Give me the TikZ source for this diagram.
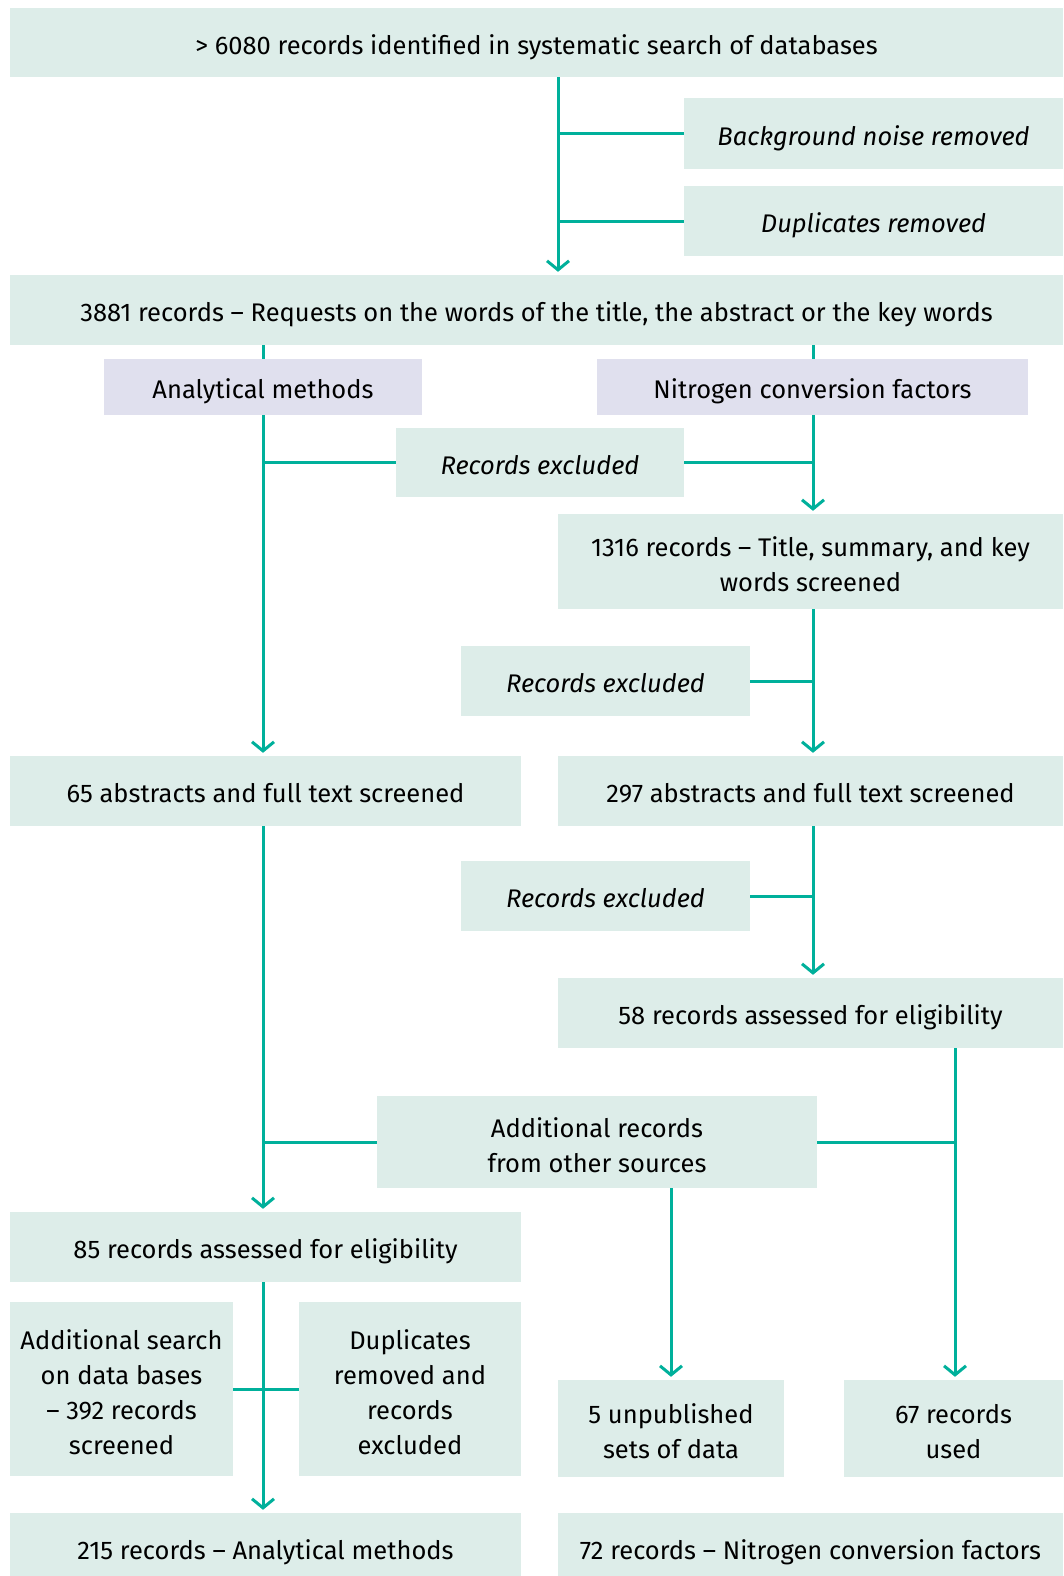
\documentclass[tikz,border=0pt]{standalone}
\usepackage{fontspec}
\setmainfont{Fira Sans}
\usetikzlibrary{arrows.meta}
\definecolor{boxc}{HTML}{DDEDE9}
\definecolor{lavc}{HTML}{E0E0EE}
\definecolor{linec}{HTML}{00B09B}
\tikzset{
  box/.style={fill=boxc, inner sep=0pt, align=center, text depth=0pt, text height=23.5pt, font=\fontsize{25.5}{35}\selectfont},
  twobox/.style={box, text height=60pt},
  fourbox/.style={box, text height=130pt},
  lav/.style={box, fill=lavc},
  ibox/.style={box, font=\fontsize{25.5}{35}\selectfont\itshape},
  ln/.style={draw=linec, line width=3pt},
  arr/.style={ln, -{Straight Barb[length=9pt,width=22pt,line width=3pt]}, shorten >=3pt},
}
\begin{document}
\begin{tikzpicture}[x=1pt,y=-1pt]
\useasboundingbox (0,0) rectangle (1063,1576);
% nodes
\node[box, minimum width=1053pt, minimum height=69pt] (top) at (536.5,42.5) {> 6080 records identified in systematic search of databases};
\node[ibox, minimum width=379pt, minimum height=70pt] (bg) at (873.5,133.5) {Background noise removed};
\node[ibox, minimum width=379pt, minimum height=70pt] (dup) at (873.5,221) {Duplicates removed};
\node[box, minimum width=1053pt, minimum height=70pt] (r3881) at (536.5,310) {3881 records – Requests on the words of the title, the abstract or the key words};
\node[lav, minimum width=317.5pt, minimum height=56pt] (am) at (263,387) {Analytical methods};
\node[lav, minimum width=431pt, minimum height=56pt] (ncf) at (812.5,387) {Nitrogen conversion factors};
\node[ibox, minimum width=288pt, minimum height=69pt] (ex1) at (540,462.5) {Records excluded};
\node[twobox, minimum width=505pt, minimum height=95pt] (r1316) at (810.5,561.5) {1316 records – Title, summary, and key\\words screened};
\node[ibox, minimum width=289pt, minimum height=70pt] (ex2) at (605.5,681) {Records excluded};
\node[box, minimum width=511pt, minimum height=70pt] (a65) at (265.5,791) {65 abstracts and full text screened};
\node[box, minimum width=505pt, minimum height=70pt] (a297) at (810.5,791) {297 abstracts and full text screened};
\node[ibox, minimum width=289pt, minimum height=70pt] (ex3) at (605.5,896) {Records excluded};
\node[box, minimum width=505pt, minimum height=70pt] (r58) at (810.5,1013) {58 records assessed for eligibility};
\node[twobox, minimum width=440pt, minimum height=92pt] (add) at (597,1142) {Additional records\\from other sources};
\node[box, minimum width=511pt, minimum height=70pt] (r85) at (265.5,1247) {85 records assessed for eligibility};
\node[fourbox, minimum width=223pt, minimum height=174pt] (srch) at (121.5,1389) {Additional search\\on data bases\\– 392 records\\screened};
\node[fourbox, minimum width=222pt, minimum height=174pt] (dupx) at (410,1389) {Duplicates\\removed and\\records\\excluded};
\node[twobox, minimum width=226pt, minimum height=97pt] (unp) at (671,1428.5) {5 unpublished\\sets of data};
\node[twobox, minimum width=219pt, minimum height=97pt] (used) at (953.5,1428.5) {67 records\\used};
\node[box, minimum width=511pt, minimum height=70pt] (r215) at (265.5,1548) {215 records – Analytical methods};
\node[box, minimum width=505pt, minimum height=70pt] (r72) at (810.5,1548) {72 records – Nitrogen conversion factors};
% connector columns
\coordinate (xA) at (558,0);
\coordinate (xL) at (263,0);
\coordinate (xR) at (813,0);
\coordinate (xU) at (955,0);
\coordinate (xP) at (671,0);
% connectors
\draw[arr] (top.south -| xA) -- (r3881.north -| xA);
\draw[ln] (bg.west) -- (bg.west -| xA);
\draw[ln] (dup.west) -- (dup.west -| xA);
\draw[ln] (r3881.south -| xL) -- (am.north -| xL);
\draw[ln] (r3881.south -| xR) -- (ncf.north -| xR);
\draw[arr] (am.south -| xL) -- (a65.north -| xL);
\draw[arr] (ncf.south -| xR) -- (r1316.north -| xR);
\draw[ln] (ex1.west) -- (ex1.west -| xL);
\draw[ln] (ex1.east) -- (ex1.east -| xR);
\draw[arr] (r1316.south -| xR) -- (a297.north -| xR);
\draw[ln] (ex2.east) -- (ex2.east -| xR);
\draw[arr] (a297.south -| xR) -- (r58.north -| xR);
\draw[ln] (ex3.east) -- (ex3.east -| xR);
\draw[arr] (a65.south -| xL) -- (r85.north -| xL);
\draw[ln] (add.west) -- (add.west -| xL);
\draw[arr] (r58.south -| xU) -- (used.north -| xU);
\draw[ln] (add.east) -- (add.east -| xU);
\draw[arr] (add.south -| xP) -- (unp.north -| xP);
\draw[arr] (r85.south -| xL) -- (r215.north -| xL);
\draw[ln] (srch.east) -- (dupx.west);
\end{tikzpicture}
\end{document}
